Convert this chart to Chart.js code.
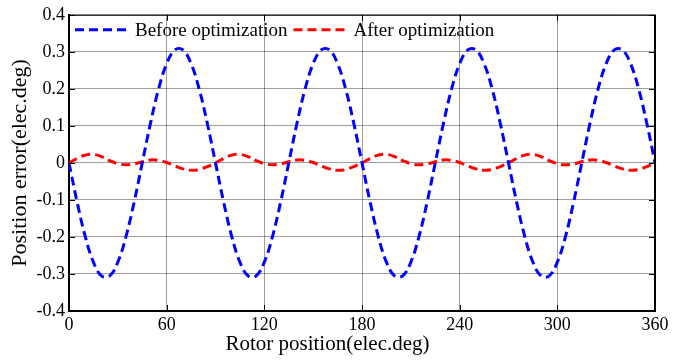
<!DOCTYPE html>
<html>
<head>
<meta charset="utf-8">
<script src="https://cdn.jsdelivr.net/npm/chart.js@4.4.1/dist/chart.umd.min.js"></script>
<style>
  html, body { margin: 0; padding: 0; background: #ffffff; }
  #wrap { width: 686px; height: 360px; }
</style>
</head>
<body>
<div id="wrap"><canvas id="c" width="686" height="360"></canvas></div>
<script>
// Rotor position (elec.deg)
const rotorPos = [0,5,10,15,20,25,30,35,40,45,50,55,60,65,70,75,80,85,
  90,95,100,105,110,115,120,125,130,135,140,145,150,155,160,165,170,175,
  180,185,190,195,200,205,210,215,220,225,230,235,240,245,250,255,260,265,
  270,275,280,285,290,295,300,305,310,315,320,325,330,335,340,345,350,355,360];

// Position error before optimization (elec.deg)
const beforeOpt = [0,-0.106,-0.199,-0.268,-0.305,-0.305,-0.268,-0.199,-0.106,0,0.106,0.199,0.268,0.305,0.305,0.268,0.199,0.106,
  0,-0.106,-0.199,-0.268,-0.305,-0.305,-0.268,-0.199,-0.106,0,0.106,0.199,0.268,0.305,0.305,0.268,0.199,0.106,
  0,-0.106,-0.199,-0.268,-0.305,-0.305,-0.268,-0.199,-0.106,0,0.106,0.199,0.268,0.305,0.305,0.268,0.199,0.106,
  0,-0.106,-0.199,-0.268,-0.305,-0.305,-0.268,-0.199,-0.106,0,0.106,0.199,0.268,0.305,0.305,0.268,0.199,0.106,
  0];

// Position error after optimization (elec.deg)
const afterOpt = [0,0.012,0.021,0.023,0.017,0.006,-0.002,-0.005,-0.003,0.003,0.008,0.007,0.001,-0.008,-0.016,-0.020,-0.018,-0.010,
  0,0.012,0.021,0.023,0.017,0.006,-0.002,-0.005,-0.003,0.003,0.008,0.007,0.001,-0.008,-0.016,-0.020,-0.018,-0.010,
  0,0.012,0.021,0.023,0.017,0.006,-0.002,-0.005,-0.003,0.003,0.008,0.007,0.001,-0.008,-0.016,-0.020,-0.018,-0.010,
  0,0.012,0.021,0.023,0.017,0.006,-0.002,-0.005,-0.003,0.003,0.008,0.007,0.001,-0.008,-0.016,-0.020,-0.018,-0.010,
  0];

const seriesNames = ['Before optimization', 'After optimization'];
const xTickValues = [0, 60, 120, 180, 240, 300, 360];
const yTickValues = [-0.4, -0.3, -0.2, -0.1, 0, 0.1, 0.2, 0.3, 0.4];
const yTickLabels = ['-0.4', '-0.3', '-0.2', '-0.1', '0', '0.1', '0.2', '0.3', '0.4'];
const xTitle = 'Rotor position(elec.deg)';
const yTitle = 'Position error(elec.deg)';

const FONT = "'Liberation Serif', 'Times New Roman', serif";

function toPoints(xs, ys) { return xs.map((x, i) => ({ x: x, y: ys[i] })); }

// Draw the remaining frame (top/right), MATLAB-style inward ticks and an in-plot legend
const framePlugin = {
  id: 'frame',
  afterDraw(chart) {
    const { ctx, chartArea: a, scales } = chart;
    ctx.save();
    ctx.strokeStyle = '#000';
    ctx.setLineDash([]);
    // top border
    ctx.lineWidth = 1;
    ctx.beginPath(); ctx.moveTo(a.left, a.top + 0.5); ctx.lineTo(a.right, a.top + 0.5); ctx.stroke();
    // right border
    ctx.lineWidth = 2;
    ctx.beginPath(); ctx.moveTo(a.right, a.top); ctx.lineTo(a.right, a.bottom + 1); ctx.stroke();
    // inward ticks
    const tl = 6;
    ctx.lineWidth = 1;
    xTickValues.forEach(v => {
      const px = Math.round(scales.x.getPixelForValue(v)) + 0.5;
      ctx.beginPath(); ctx.moveTo(px, a.bottom); ctx.lineTo(px, a.bottom - tl); ctx.stroke();
      ctx.beginPath(); ctx.moveTo(px, a.top); ctx.lineTo(px, a.top + tl); ctx.stroke();
    });
    yTickValues.forEach(v => {
      const py = Math.round(scales.y.getPixelForValue(v)) + 0.5;
      ctx.beginPath(); ctx.moveTo(a.left, py); ctx.lineTo(a.left + tl, py); ctx.stroke();
      ctx.beginPath(); ctx.moveTo(a.right, py); ctx.lineTo(a.right - tl, py); ctx.stroke();
    });

    // legend inside plot, along top
    ctx.font = '19px ' + FONT;
    ctx.textBaseline = 'middle';
    ctx.textAlign = 'left';
    let x = a.left + 6;
    const y = a.top + 15;
    const sampleLen = 54;
    chart.data.datasets.forEach(ds => {
      ctx.strokeStyle = ds.borderColor;
      ctx.lineWidth = ds.borderWidth;
      ctx.setLineDash(ds.borderDash || []);
      ctx.lineDashOffset = 0;
      ctx.beginPath(); ctx.moveTo(x, y); ctx.lineTo(x + sampleLen, y); ctx.stroke();
      x += sampleLen + 6;
      ctx.fillStyle = '#000';
      ctx.fillText(ds.label, x, y + 1);
      x += ctx.measureText(ds.label).width + 6;
    });
    ctx.restore();
  }
};

new Chart(document.getElementById('c'), {
  type: 'line',
  data: {
    datasets: [
      {
        label: seriesNames[0],
        data: toPoints(rotorPos, beforeOpt),
        borderColor: '#0000ff',
        backgroundColor: '#0000ff',
        borderWidth: 3,
        borderDash: [9, 5],
        pointRadius: 0,
        tension: 0.4,
        fill: false
      },
      {
        label: seriesNames[1],
        data: toPoints(rotorPos, afterOpt),
        borderColor: '#ff0000',
        backgroundColor: '#ff0000',
        borderWidth: 3,
        borderDash: [9, 5],
        pointRadius: 0,
        tension: 0.4,
        fill: false
      }
    ]
  },
  options: {
    responsive: false,
    animation: false,
    layout: { padding: { top: 14, right: 31, left: 0, bottom: 0 } },
    plugins: {
      legend: { display: false },
      title: {
        display: true,
        position: 'bottom',
        text: xTitle,
        color: '#000',
        font: { family: FONT, size: 21, weight: 'normal' },
        padding: { top: 0, bottom: 3 }
      },
      tooltip: { enabled: false }
    },
    scales: {
      x: {
        type: 'linear',
        min: 0,
        max: 360,
        afterBuildTicks: (s) => { s.ticks = xTickValues.map(v => ({ value: v })); },
        afterFit: (s) => { s.height = 20.8; },
        ticks: {
          color: '#000',
          font: { family: FONT, size: 18 },
          padding: 3,
          maxRotation: 0,
          autoSkip: false
        },
        grid: { color: 'rgba(0,0,0,0.38)', lineWidth: 1, drawTicks: false },
        border: { display: true, color: '#000', width: 2 }
      },
      y: {
        type: 'linear',
        min: -0.4,
        max: 0.4,
        afterBuildTicks: (s) => { s.ticks = yTickValues.map(v => ({ value: v })); },
        afterFit: (s) => { s.width = 69; },
        ticks: {
          color: '#000',
          font: { family: FONT, size: 18 },
          padding: 4,
          autoSkip: false,
          callback: (v) => {
            const i = yTickValues.findIndex(t => Math.abs(t - v) < 1e-9);
            return i >= 0 ? yTickLabels[i] : '';
          }
        },
        title: {
          display: true,
          text: yTitle,
          color: '#000',
          font: { family: FONT, size: 22 },
          padding: { top: 7, bottom: 0 }
        },
        grid: { color: 'rgba(0,0,0,0.38)', lineWidth: 1, drawTicks: false },
        border: { display: true, color: '#000', width: 2 }
      }
    }
  },
  plugins: [framePlugin]
});
</script>
</body>
</html>
